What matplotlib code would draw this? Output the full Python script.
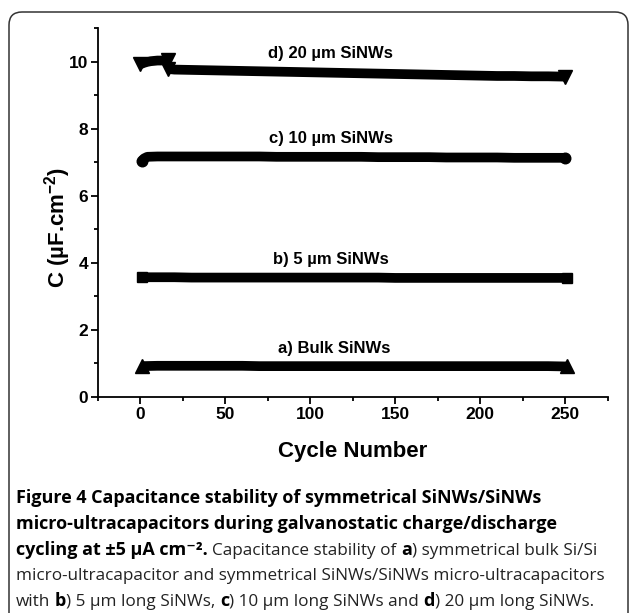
import numpy as np
import matplotlib.pyplot as plt
from matplotlib.patches import FancyBboxPatch
from matplotlib.ticker import MultipleLocator
from matplotlib.transforms import IdentityTransform

plt.rcParams['font.family'] = ['Liberation Sans', 'DejaVu Sans']
plt.rcParams['mathtext.fontset'] = 'custom'
plt.rcParams['mathtext.rm'] = 'Liberation Sans:bold'
plt.rcParams['mathtext.default'] = 'rm'

# cycle numbers and capacitance (uF/cm2)
cyc = [1, 10, 20, 30, 40, 50, 60, 70, 80, 90, 100, 110, 120, 130,
       140, 150, 160, 170, 180, 190, 200, 210, 220, 230, 240, 251]
bulk = [0.92, 0.93, 0.93, 0.93, 0.93, 0.93, 0.93, 0.92, 0.92, 0.92, 0.92, 0.92, 0.92,
        0.92, 0.92, 0.92, 0.92, 0.92, 0.92, 0.92, 0.92, 0.92, 0.92, 0.92, 0.92, 0.91]
nw5 = [3.57, 3.57, 3.57, 3.56, 3.56, 3.56, 3.56, 3.56, 3.56, 3.56, 3.56, 3.56, 3.56,
       3.56, 3.56, 3.55, 3.55, 3.55, 3.55, 3.55, 3.55, 3.55, 3.55, 3.55, 3.55, 3.55]

cyc_c = [1, 2, 4, 10, 20, 30, 40, 50, 60, 70, 80, 90, 100, 110, 120, 130,
         140, 150, 160, 170, 180, 190, 200, 210, 220, 230, 240, 250]
nw10 = [7.05, 7.11, 7.16, 7.17, 7.17, 7.17, 7.17, 7.17, 7.17, 7.17, 7.16, 7.16, 7.16, 7.16,
        7.16, 7.16, 7.15, 7.15, 7.15, 7.15, 7.14, 7.14, 7.14, 7.14, 7.13, 7.13, 7.13, 7.13]

cyc_d1 = [0, 2, 4, 6, 8, 10, 12, 14, 16]
nw20_a = [9.92, 9.96, 9.99, 10.01, 10.02, 10.03, 10.03, 10.04, 10.05]
cyc_d2 = [16, 20, 30, 40, 50, 60, 70, 80, 90, 100, 110, 120, 130, 140, 150,
          160, 170, 180, 190, 200, 210, 220, 230, 240, 250]
nw20_b = [9.78, 9.76, 9.75, 9.74, 9.73, 9.72, 9.71, 9.70, 9.69, 9.68, 9.67, 9.66, 9.65,
          9.64, 9.63, 9.62, 9.61, 9.60, 9.59, 9.58, 9.57, 9.57, 9.56, 9.56, 9.55]

labels = ['a) Bulk SiNWs', 'b) 5 µm SiNWs', 'c) 10 µm SiNWs', 'd) 20 µm SiNWs']

W, H = 629, 613
fig = plt.figure(figsize=(W / 100, H / 100), dpi=100)

# rounded panel border
box = FancyBboxPatch((9, -40), 619, H - 12 + 40, boxstyle='round,pad=0,rounding_size=13',
                     transform=IdentityTransform(), fill=False, ec='#333333', lw=1.1)
fig.patches.append(box)

ax = fig.add_axes([98 / W, (H - 397) / H, (607.5 - 98) / W, (397 - 28) / H])
band = dict(color='black', lw=7.0, solid_capstyle='butt', markevery=[0, -1])
ax.plot(cyc, bulk, marker='^', ms=9.5, **band)
ax.plot(cyc, nw5, marker='s', ms=7.2, **band)
ax.plot(cyc_c, nw10, marker='o', ms=7.6, **band)
ax.plot(cyc_d1, nw20_a, marker='v', ms=9.5, **band)
ax.plot(cyc_d2, nw20_b, marker='v', ms=9.5, **band)

for lab, x, y in zip(labels, [114, 112, 112, 112], [1.45, 4.1, 7.7, 10.25]):
    ax.text(x, y, lab, ha='center', va='center', fontsize=12, fontweight='bold')

ax.set_xlim(-25, 275)
ax.set_ylim(0, 11)
ax.xaxis.set_major_locator(MultipleLocator(50))
ax.xaxis.set_minor_locator(MultipleLocator(25))
ax.yaxis.set_major_locator(MultipleLocator(2))
ax.yaxis.set_minor_locator(MultipleLocator(1))
for s in ['top', 'right']:
    ax.spines[s].set_visible(False)
for s in ['left', 'bottom']:
    ax.spines[s].set_linewidth(1.3)
ax.tick_params(which='major', length=5, width=1.3, pad=2, labelsize=12.5)
ax.tick_params(which='minor', length=3, width=1.3)
for t in ax.get_xticklabels() + ax.get_yticklabels():
    t.set_fontweight('bold')
ax.set_xlabel('Cycle Number', fontsize=16, fontweight='bold', labelpad=14)
ax.set_ylabel('C (µF.cm$^{-2}$)', fontsize=16, fontweight='bold', labelpad=-3)
ax.yaxis.label.set_y(0.46)

# caption, drawn piece by piece so bold and normal runs line up
renderer = fig.canvas.get_renderer()
bold_font = dict(family=['Open Sans', 'DejaVu Sans'], fontweight='bold', fontsize=13, color='black')
norm_font = dict(family=['Open Sans', 'DejaVu Sans'], fontsize=12.3, color='#222222')


def space_w(font):
    a = fig.text(0, 0, 'x x', **font)
    b = fig.text(0, 0, 'xx', **font)
    w = a.get_window_extent(renderer).width - b.get_window_extent(renderer).width
    a.remove()
    b.remove()
    return w


def caption_line(y, parts):
    x = 16
    for s, f in parts:
        if s.startswith(' '):
            x += space_w(f)
        t = fig.text(x / W, (H - y) / H, s.strip(), va='baseline', ha='left', **f)
        x += t.get_window_extent(renderer).width
        if s.endswith(' '):
            x += space_w(f)


caption_line(503, [('Figure 4 Capacitance stability of symmetrical SiNWs/SiNWs', bold_font)])
caption_line(529, [('micro-ultracapacitors during galvanostatic charge/discharge', bold_font)])
caption_line(555, [('cycling at ±5 µA cm⁻².', bold_font),
                   (' Capacitance stability of ', norm_font), ('a', bold_font),
                   (') symmetrical bulk Si/Si', norm_font)])
caption_line(580, [('micro-ultracapacitor and symmetrical SiNWs/SiNWs micro-ultracapacitors', norm_font)])
caption_line(606, [('with ', norm_font), ('b', bold_font), (') 5 µm long SiNWs, ', norm_font),
                   ('c', bold_font), (') 10 µm long SiNWs and ', norm_font), ('d', bold_font),
                   (') 20 µm long SiNWs.', norm_font)])

fig.savefig('out.png', dpi=100)
